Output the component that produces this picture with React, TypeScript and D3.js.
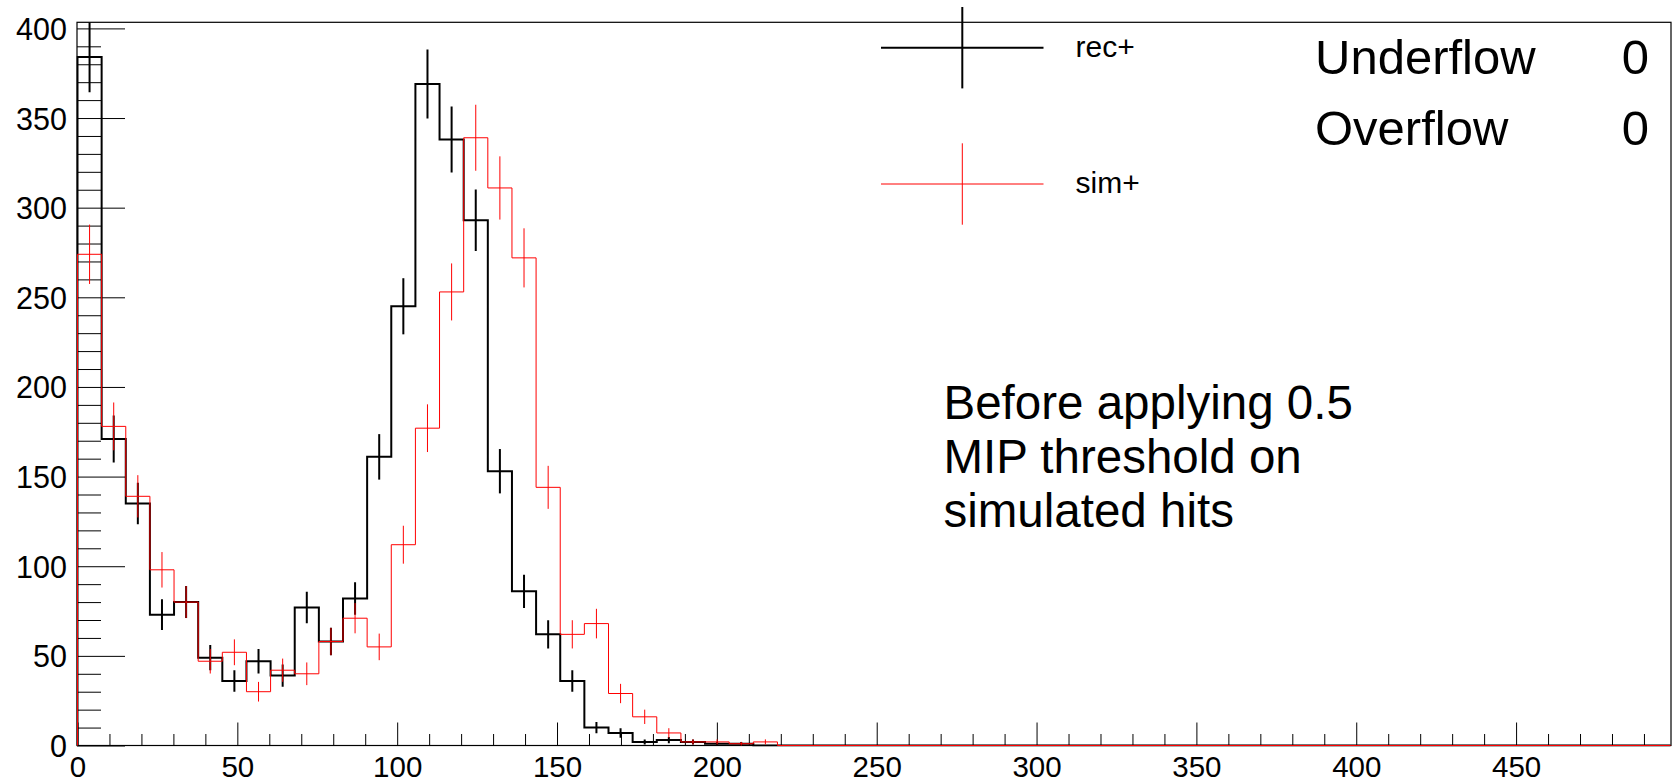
import { useEffect, useRef } from 'react'
import * as d3 from 'd3'

// bin contents (66 bins of width 7.55, only the filled ones listed)
const binWidth = 7.55
const nBins = 66
const recCounts = [384, 171, 135, 73, 80, 49, 36, 47, 39, 77, 58, 82, 161, 245, 369, 338, 293, 153, 86, 62, 36, 10, 7, 2, 3, 2, 1, 1]
const simCounts = [274, 178, 139, 98, 80, 47, 52, 30, 42, 40, 58, 71, 55, 112, 177, 253, 339, 311, 272, 144, 62, 68, 29, 16, 7, 2, 2, 1, 2]
const xMajorTicks = [0, 50, 100, 150, 200, 250, 300, 350, 400, 450]
const xMinorTicks = [10, 20, 30, 40, 60, 70, 80, 90, 110, 120, 130, 140, 160, 170, 180, 190, 210, 220, 230, 240, 260, 270, 280, 290, 310, 320, 330, 340, 360, 370, 380, 390, 410, 420, 430, 440, 460, 470, 480, 490]
const yMajorTicks = [0, 50, 100, 150, 200, 250, 300, 350, 400]
const yMinorTicks = [10, 20, 30, 40, 60, 70, 80, 90, 110, 120, 130, 140, 160, 170, 180, 190, 210, 220, 230, 240, 260, 270, 280, 290, 310, 320, 330, 340, 360, 370, 380, 390]
const legendItems = [
  { label: 'rec+', color: '#000000', width: 2 },
  { label: 'sim+', color: '#ff0000', width: 1 },
]
const statLines = [
  { name: 'Underflow', value: '0' },
  { name: 'Overflow', value: '0' },
]
const noteLines = ['Before applying 0.5', 'MIP threshold on', 'simulated hits']

const FONT = '"Liberation Sans", Arial, Helvetica, sans-serif'

export default function App() {
  const svgRef = useRef<SVGSVGElement>(null)

  useEffect(() => {
    if (!svgRef.current) return
    const svg = d3.select(svgRef.current)
    svg.selectAll('*').remove()

    const left = 77.5
    const right = 1670.5
    const top = 22.3
    const bottom = 745.5
    const xMax = nBins * binWidth
    const yMax = 403.4

    const x = d3.scaleLinear().domain([0, xMax]).range([left, right])
    const y = d3.scaleLinear().domain([0, yMax]).range([bottom, top])

    svg.append('rect')
      .attr('width', 1674).attr('height', 782)
      .attr('fill', '#ffffff')

    svg.append('defs').append('clipPath').attr('id', 'frame-clip')
      .append('rect')
      .attr('x', left - 1).attr('y', top)
      .attr('width', right - left + 2).attr('height', bottom - top + 1)

    // axes: ROOT style ticks pointing inward
    const xAxis = svg.append('g')
      .attr('transform', `translate(0,${bottom})`)
      .call(d3.axisBottom(x).tickValues(xMajorTicks).tickSize(-23).tickPadding(10.6).tickFormat(d3.format('d')))
    xAxis.select('.domain').remove()
    xAxis.selectAll('text').attr('font-size', 29.5).attr('font-family', FONT).attr('fill', '#000')

    const xMinor = svg.append('g')
      .attr('transform', `translate(0,${bottom})`)
      .call(d3.axisBottom(x).tickValues(xMinorTicks).tickSize(-11.5).tickFormat(() => ''))
    xMinor.select('.domain').remove()

    const yAxis = svg.append('g')
      .attr('transform', `translate(${left - 0.5},0)`)
      .call(d3.axisLeft(y).tickValues(yMajorTicks).tickSize(-48).tickPadding(10).tickFormat(d3.format('d')))
    yAxis.select('.domain').remove()
    yAxis.selectAll('text').attr('font-size', 30.5).attr('font-family', FONT).attr('fill', '#000').attr('dy', '0.36em')

    const yMinor = svg.append('g')
      .attr('transform', `translate(${left - 0.5},0)`)
      .call(d3.axisLeft(y).tickValues(yMinorTicks).tickSize(-24).tickFormat(() => ''))
    yMinor.select('.domain').remove()

    svg.selectAll('.tick line').attr('stroke', '#000').attr('stroke-width', 1)

    // frame
    svg.append('rect')
      .attr('x', left - 0.5).attr('y', top)
      .attr('width', right - left + 1).attr('height', bottom - top)
      .attr('fill', 'none')
      .attr('stroke', '#000')
      .attr('stroke-width', 1.2)

    const step = d3.line<[number, number]>()
      .x(d => x(d[0]))
      .y(d => y(d[1]))
      .curve(d3.curveStepAfter)

    const plot = svg.append('g').attr('clip-path', 'url(#frame-clip)')

    const drawHist = (counts: number[], color: string, width: number) => {
      const pts: [number, number][] = [[0, 0]]
      counts.forEach((c, i) => pts.push([i * binWidth, c]))
      pts.push([counts.length * binWidth, 0])
      pts.push([xMax, 0])

      plot.append('path')
        .datum(pts)
        .attr('fill', 'none')
        .attr('stroke', color)
        .attr('stroke-width', width)
        .attr('d', step)

      plot.selectAll(null)
        .data(counts.map((c, i) => ({ c, i })).filter(d => d.c > 0))
        .enter().append('line')
        .attr('x1', d => x((d.i + 0.5) * binWidth))
        .attr('x2', d => x((d.i + 0.5) * binWidth))
        .attr('y1', d => y(Math.max(d.c - Math.sqrt(d.c), 0)))
        .attr('y2', d => y(Math.min(d.c + Math.sqrt(d.c), yMax)))
        .attr('stroke', color)
        .attr('stroke-width', width)
    }

    drawHist(recCounts, '#000000', 2)
    drawHist(simCounts, '#ff0000', 1)

    // legend
    const legend = svg.append('g')
    legendItems.forEach((item, i) => {
      const cy = 47.7 + i * 136.3
      const cx = 962.3
      legend.append('line')
        .attr('x1', 881).attr('x2', 1043.5)
        .attr('y1', cy).attr('y2', cy)
        .attr('stroke', item.color).attr('stroke-width', item.width)
      legend.append('line')
        .attr('x1', cx).attr('x2', cx)
        .attr('y1', cy - 40.7).attr('y2', cy + 40.7)
        .attr('stroke', item.color).attr('stroke-width', item.width)
      legend.append('text')
        .attr('x', 1075.5).attr('y', cy + 9)
        .attr('font-family', FONT).attr('font-size', 30)
        .attr('fill', '#000')
        .text(item.label)
    })

    // statistics box text
    statLines.forEach((s, i) => {
      const by = 73.5 + i * 71.5
      svg.append('text')
        .attr('x', 1315).attr('y', by)
        .attr('font-family', FONT).attr('font-size', 49)
        .attr('fill', '#000')
        .text(s.name)
      svg.append('text')
        .attr('x', 1649).attr('y', by)
        .attr('text-anchor', 'end')
        .attr('font-family', FONT).attr('font-size', 49)
        .attr('fill', '#000')
        .text(s.value)
    })

    // annotation
    noteLines.forEach((t, i) => {
      svg.append('text')
        .attr('x', 943.5).attr('y', 419.3 + i * 53.7)
        .attr('font-family', FONT).attr('font-size', 47.5)
        .attr('fill', '#000')
        .text(t)
    })
  }, [])

  return (
    <div style={{ position: 'absolute', left: 0, top: 0 }}>
      <svg ref={svgRef} width={1674} height={782} style={{ display: 'block' }}></svg>
    </div>
  )
}
